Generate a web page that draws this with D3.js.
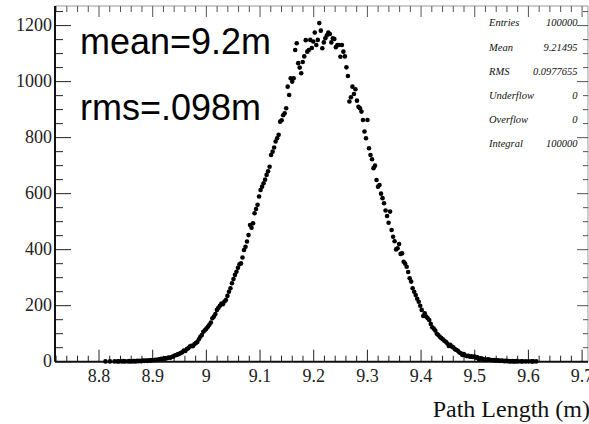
<!DOCTYPE html>
<html>
<head>
<meta charset="utf-8">
<script src="https://cdn.jsdelivr.net/npm/d3@7"></script>
<style>
  html, body { margin: 0; padding: 0; background: #fff; }
  svg { display: block; }
</style>
</head>
<body>
<div id="viz"></div>
<script>
// histogram binning (350 bins from 8.718 to 9.7)
const binLo = 8.718;
const binWidth = 0.0028057;
const firstBin = 30;

// bin contents, starting at bin index 30
const counts = [
    0, 0, 0, 1, 0, 0, 1, 0, 0, 1,
    0, 1, 1, 0, 1, 2, 1, 0, 1, 2,
    1, 2, 2, 1, 3, 2, 3, 2, 4, 3,
    4, 3, 5, 4, 6, 5, 7, 6, 8, 9,
    10, 9, 12, 11, 13, 15, 14, 17, 19, 22,
    24, 26, 28, 31, 34, 40, 38, 45, 48, 54,
    57, 55, 62, 67, 70, 80, 89, 95, 107, 112,
    118, 125, 132, 140, 155, 161, 170, 185, 192, 200,
    208, 205, 215, 220, 235, 250, 262, 280, 295, 310,
    321, 335, 348, 351, 372, 399, 410, 429, 452, 488,
    478, 494, 530, 545, 560, 590, 613, 625, 637, 650,
    667, 680, 696, 738, 750, 765, 786, 798, 810, 857,
    862, 880, 887, 905, 982, 952, 1012, 1000, 1012, 1113,
    1137, 1066, 1050, 1030, 1070, 1090, 1148, 1107, 1113, 1149,
    1120, 1143, 1175, 1131, 1149, 1209, 1182, 1119, 1140, 1155,
    1165, 1175, 1170, 1140, 1155, 1152, 1123, 1131, 1131, 1089,
    1131, 1107, 1090, 1051, 1020, 929, 944, 982, 956, 973,
    932, 910, 905, 893, 863, 822, 798, 863, 762, 738,
    723, 691, 700, 649, 625, 631, 600, 584, 566, 540,
    520, 496, 536, 470, 446, 430, 401, 405, 420, 385,
    387, 357, 350, 339, 320, 298, 286, 262, 250, 238,
    225, 214, 200, 185, 163, 173, 161, 155, 149, 135,
    123, 118, 111, 100, 95, 89, 84, 80, 75, 71,
    65, 56, 60, 54, 51, 45, 42, 39, 33, 30,
    24, 27, 22, 20, 21, 18, 19, 17, 18, 14,
    16, 9, 12, 11, 9, 8, 6, 9, 7, 6,
    5, 6, 4, 5, 4, 3, 4, 3, 2, 3,
    2, 2, 1, 2, 1, 1, 2, 1, 0, 1,
    1, 0, 1, 0, 1, 0, 1, 1, 0, 1
];

// axis ranges and ticks
const xDomain = [8.718, 9.711];
const yDomain = [0, 1270];
const xMajor = [8.8, 8.9, 9, 9.1, 9.2, 9.3, 9.4, 9.5, 9.6, 9.7];
const xMinor = d3.range(872, 971, 2).map(d => d / 100);
const yMajor = [0, 200, 400, 600, 800, 1000, 1200];
const yMinor = d3.range(0, 1251, 50);

// stats box
const statLabels = ["Entries", "Mean", "RMS", "Underflow", "Overflow", "Integral"];
const statValues = ["100000", "9.21495", "0.0977655", "0", "0", "100000"];

// annotations
const notes = ["mean=9.2m", "rms=.098m"];
const xTitle = "Path Length (m)";

const W = 589, H = 424;
const padL = 55, padR = 588, padT = 6, padB = 361.7;

const svg = d3.select("#viz").append("svg")
    .attr("width", W)
    .attr("height", H);

const x = d3.scaleLinear().domain(xDomain).range([padL, padR]);
const y = d3.scaleLinear().domain(yDomain).range([padB, padT]);

const serif = "'Liberation Serif', 'Times New Roman', serif";

// frame: top and right in grey
svg.append("line")
    .attr("x1", padL).attr("x2", padR)
    .attr("y1", padT).attr("y2", padT)
    .attr("stroke", "#999").attr("stroke-width", 1);
svg.append("line")
    .attr("x1", padR).attr("x2", padR)
    .attr("y1", padT).attr("y2", padB)
    .attr("stroke", "#999").attr("stroke-width", 1);

// bottom axis ticks (up) and top ticks (down)
const ticks = svg.append("g").attr("stroke", "#222").attr("stroke-width", 1);
xMinor.forEach(v => {
    const major = xMajor.some(m => Math.abs(m - v) < 1e-6);
    ticks.append("line")
        .attr("x1", x(v)).attr("x2", x(v))
        .attr("y1", padB).attr("y2", padB - (major ? 12 : 6));
    ticks.append("line")
        .attr("x1", x(v)).attr("x2", x(v))
        .attr("y1", padT).attr("y2", padT + (major ? 11 : 6))
        .attr("stroke", "#555");
});

// left ticks (pointing right) and right ticks (pointing left)
yMinor.forEach(v => {
    const major = yMajor.includes(v);
    ticks.append("line")
        .attr("x1", padL).attr("x2", padL + (major ? 16 : 8))
        .attr("y1", y(v)).attr("y2", y(v));
    ticks.append("line")
        .attr("x1", padR).attr("x2", padR - (major ? 11 : 5))
        .attr("y1", y(v)).attr("y2", y(v))
        .attr("stroke", "#555");
});

// main axis lines
svg.append("line")
    .attr("x1", padL).attr("x2", padR)
    .attr("y1", padB).attr("y2", padB)
    .attr("stroke", "#111").attr("stroke-width", 2);
svg.append("line")
    .attr("x1", padL).attr("x2", padL)
    .attr("y1", padT).attr("y2", padB)
    .attr("stroke", "#111").attr("stroke-width", 2);

// tick labels
svg.append("g").selectAll("text")
    .data(xMajor)
    .join("text")
    .attr("x", d => x(d))
    .attr("y", 381.5)
    .attr("text-anchor", "middle")
    .attr("font-family", serif)
    .attr("font-size", 18)
    .attr("fill", "#222")
    .text(d => String(d));

svg.append("g").selectAll("text")
    .data(yMajor)
    .join("text")
    .attr("x", 52)
    .attr("y", d => y(d) + 5.5)
    .attr("text-anchor", "end")
    .attr("font-family", serif)
    .attr("font-size", 18)
    .attr("fill", "#222")
    .text(d => d);

// x title
svg.append("text")
    .attr("x", 590)
    .attr("y", 416.5)
    .attr("text-anchor", "end")
    .attr("font-family", serif)
    .attr("font-size", 24)
    .attr("fill", "#111")
    .text(xTitle);

// histogram markers (empty bins not drawn)
const bins = counts.map((c, i) => ({
    center: binLo + (firstBin + i + 0.5) * binWidth,
    count: c
})).filter(d => d.count > 0);

svg.append("g").selectAll("circle")
    .data(bins)
    .join("circle")
    .attr("cx", d => x(d.center))
    .attr("cy", d => y(d.count))
    .attr("r", 2.3)
    .attr("fill", "#000");

// stats box
const stats = svg.append("g")
    .attr("font-family", serif)
    .attr("font-style", "italic")
    .attr("font-size", 10.5)
    .attr("fill", "#111");
statLabels.forEach((s, i) => {
    const by = 26.3 + i * 24.2;
    stats.append("text").attr("x", 489).attr("y", by).text(s);
    stats.append("text").attr("x", 577.5).attr("y", by)
        .attr("text-anchor", "end").text(statValues[i]);
});

// big annotations
notes.forEach((t, i) => {
    svg.append("text")
        .attr("x", 80)
        .attr("y", 54 + i * 66)
        .attr("font-family", "'Liberation Sans', Arial, sans-serif")
        .attr("font-size", 36)
        .attr("fill", "#000")
        .text(t);
});
</script>
</body>
</html>
